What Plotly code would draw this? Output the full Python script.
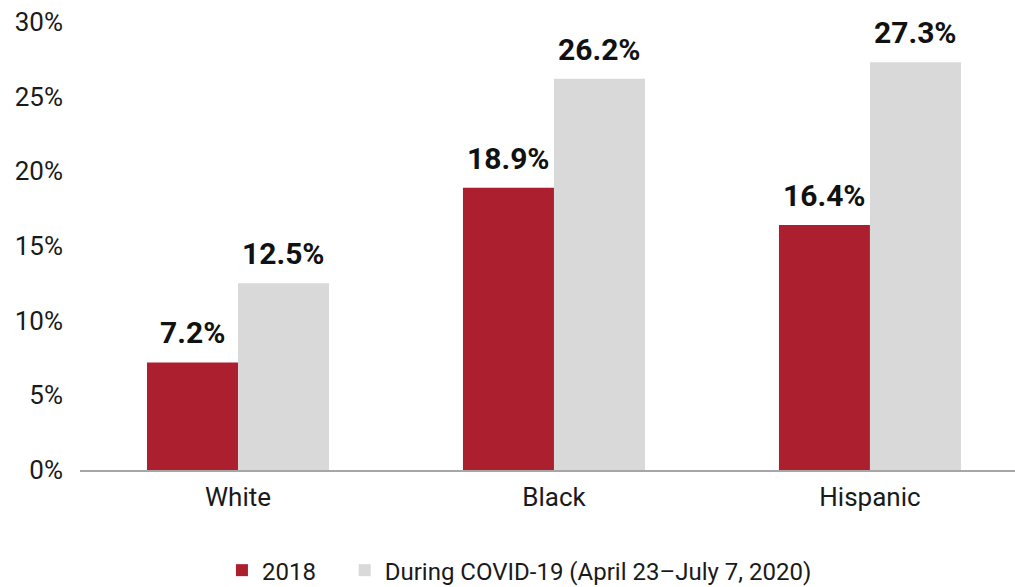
import plotly.graph_objects as go

categories = ["White", "Black", "Hispanic"]
series_2018 = [7.2, 18.9, 16.4]
series_covid = [12.5, 26.2, 27.3]
series_names = ["2018", "During COVID-19 (April 23–July 7, 2020)"]
tick_vals = [0, 5, 10, 15, 20, 25, 30]
tick_text = ["0%", "5%", "10%", "15%", "20%", "25%", "30%"]

RED = "#AC1F2E"
GRAY = "#D9D9D9"
FONT = "Roboto"
W, H = 1015, 587
ML, MR, MT, MB = 80, 0, 22, 117
XR = [-0.5, 2.459]
BARGAP = 0.424

fig = go.Figure()
series = [(series_names[0] + "\u00a0" * 4, series_2018, RED),
          (series_names[1], series_covid, GRAY)]
for name, vals, col in series:
    fig.add_trace(go.Bar(
        x=categories, y=vals, name=name,
        marker=dict(color=col, line=dict(width=0)),
        cliponaxis=False,
    ))

# data labels above bars
px_per_unit = (W - ML - MR) / (XR[1] - XR[0])
bar_px = (1 - BARGAP) / 2 * px_per_unit
for i, (name, vals, col) in enumerate(series):
    shift = (i - 0.5) * bar_px
    for c, v in zip(categories, vals):
        fig.add_annotation(x=c, y=v, xref="x", yref="y", text=f"<b>{v:.1f}%</b>",
                           showarrow=False, xshift=shift, yanchor="bottom", yshift=10,
                           font=dict(family=FONT, size=30, color="#111111"))

fig.update_layout(
    width=W, height=H,
    margin=dict(l=ML, r=MR, t=MT, b=MB, autoexpand=False),
    plot_bgcolor="white", paper_bgcolor="white",
    barmode="group", bargap=BARGAP, bargroupgap=0,
    font=dict(family=FONT, size=24, color="#1a1a1a"),
    xaxis=dict(range=XR, showline=True, linecolor="#A6A6A6", linewidth=1.5,
               ticks="", tickfont=dict(size=26, family=FONT, color="#1a1a1a"),
               ticklabelstandoff=3, automargin=False, fixedrange=True),
    yaxis=dict(range=[0, 30], tickvals=tick_vals, ticktext=tick_text, showgrid=False,
               zeroline=False, showline=False, ticks="", ticklabelstandoff=16,
               automargin=False, fixedrange=True,
               tickfont=dict(size=26, family=FONT, color="#1a1a1a")),
    legend=dict(orientation="h", x=0.47, xanchor="center", yref="container",
                y=0.028, yanchor="middle",
                font=dict(size=24, family=FONT, color="#1a1a1a"), itemwidth=30,
                traceorder="normal"),
    showlegend=True,
)
fig.write_html("out.html", config={"displayModeBar": False},
               post_script="document.body.style.margin='0';")
